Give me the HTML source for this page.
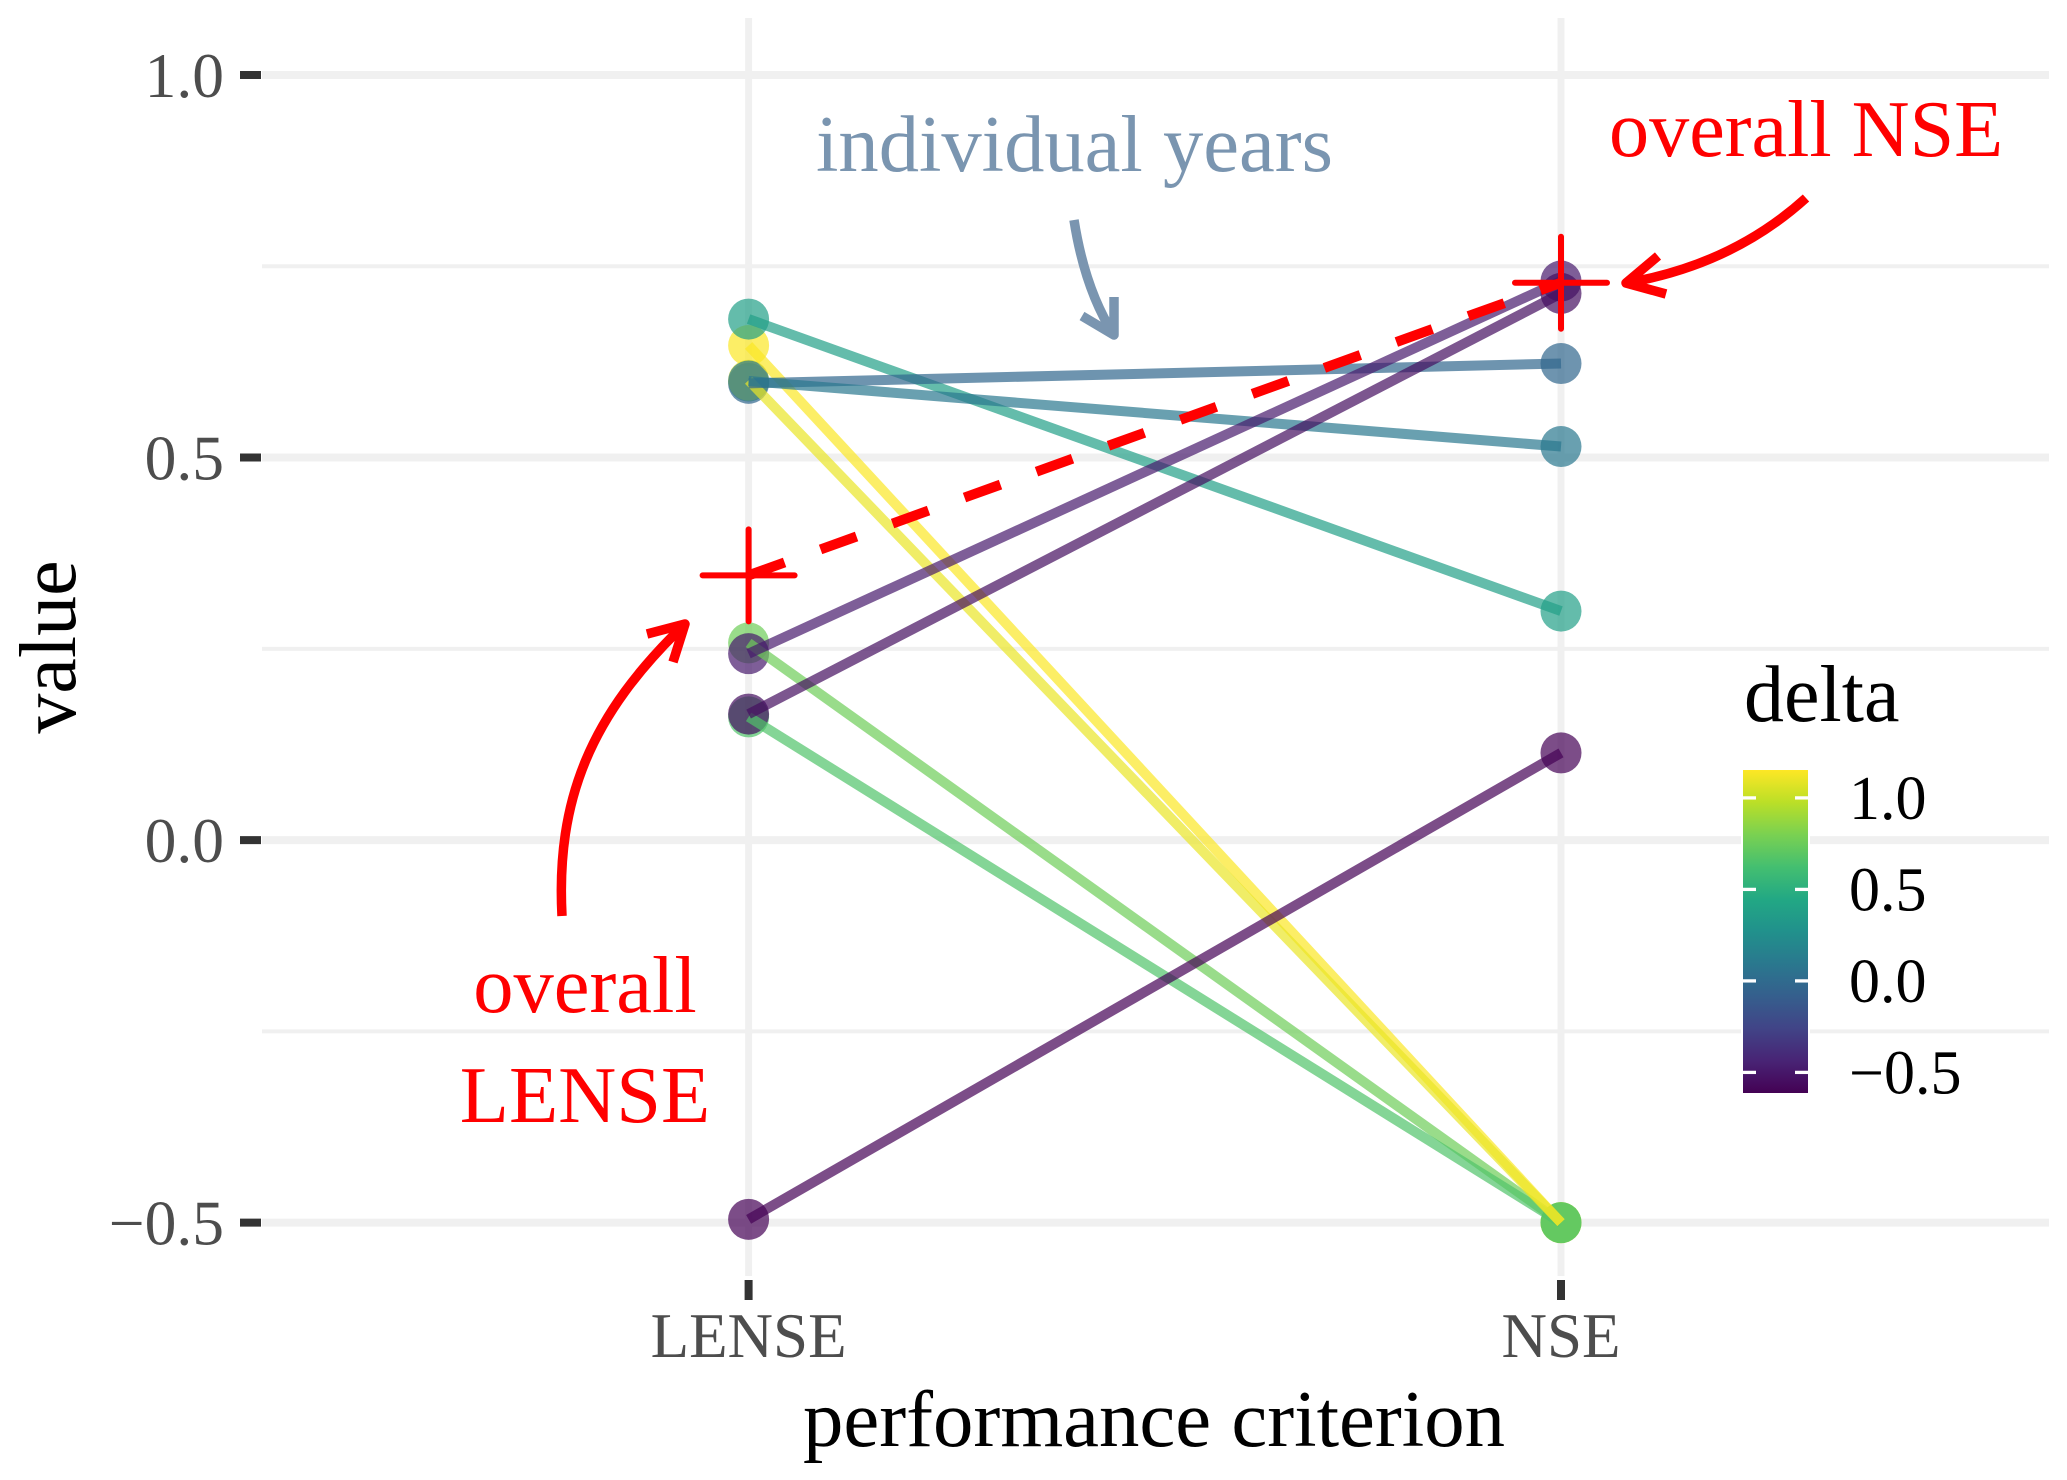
<!DOCTYPE html>
<html lang="en">
<head>
<meta charset="utf-8">
<title>Performance criterion slope chart</title>
<style>
  html, body { margin: 0; padding: 0; background: #ffffff; }
  svg { display: block; font-family: "Liberation Serif", serif; }
</style>
</head>
<body>
<svg id="chart" xmlns="http://www.w3.org/2000/svg" width="2067" height="1480" viewBox="0 0 2067 1480">
  <defs>
    <linearGradient id="viridis-gradient" x1="0" y1="1" x2="0" y2="0">
      <stop offset="0" stop-color="#440154"/>
      <stop offset="0.1" stop-color="#482475"/>
      <stop offset="0.2" stop-color="#414487"/>
      <stop offset="0.3" stop-color="#355F8D"/>
      <stop offset="0.4" stop-color="#2A788E"/>
      <stop offset="0.5" stop-color="#21918C"/>
      <stop offset="0.6" stop-color="#22A884"/>
      <stop offset="0.7" stop-color="#44BF70"/>
      <stop offset="0.8" stop-color="#7AD151"/>
      <stop offset="0.9" stop-color="#BBDF27"/>
      <stop offset="1" stop-color="#FDE725"/>
    </linearGradient>
  </defs>
  <rect x="0" y="0" width="2067" height="1480" fill="#ffffff"/>
  <g id="grid"></g>
  <g id="axes"></g>
  <g id="points"></g>
  <g id="lines"></g>
  <g id="overall"></g>

  <text x="1154" y="1446" font-size="80.8" text-anchor="middle" fill="#000000">performance criterion</text>
  <text transform="translate(75 647) rotate(-90)" font-size="80" text-anchor="middle" fill="#000000">value</text>

  <g>
    <text x="816" y="171" font-size="80.6" fill="#7A95B0">individual years</text>
    <path d="M1074 220 Q1085 290 1114 335 M1082 316 L1114 335 L1114 297" fill="none" stroke="#7A95B0" stroke-width="9.5" stroke-linejoin="round"/>
  </g>
  <g>
    <text x="1609" y="156" font-size="80.2" fill="#ff0000">overall NSE</text>
    <path d="M1806 198 Q1732 265 1626 283 M1658 256 L1626 283 L1666 294" fill="none" stroke="#ff0000" stroke-width="9.5" stroke-linejoin="round"/>
  </g>
  <g>
    <text x="585" y="1012" font-size="80.5" text-anchor="middle" fill="#ff0000">overall</text>
    <text x="585" y="1122" font-size="80.5" text-anchor="middle" fill="#ff0000">LENSE</text>
    <path d="M562 916 C556 800 590 715 685 624 M647 634 L685 624 L673 662" fill="none" stroke="#ff0000" stroke-width="9.5" stroke-linejoin="round"/>
  </g>

  <g id="legend">
    <text x="1744" y="721" font-size="80" fill="#000000">delta</text>
  </g>
</svg>
<script>
// ---- chart data ----
const categories = ['LENSE', 'NSE'];
const lenseValues = [0.2577, 0.161, 0.6465, 0.601, 0.681, 0.597, 0.60, 0.2437, 0.1647, -0.4957];
const nseValues = [-0.5, -0.5, -0.5, -0.5, 0.2993, 0.6229, 0.5144, 0.7307, 0.7145, 0.114];
const overallValues = [0.346, 0.7285];
const yMajorTicks = [1.0, 0.5, 0.0, -0.5];
const yMinorTicks = [0.75, 0.25, -0.25];
const yTickLabels = ['1.0', '0.5', '0.0', '\u22120.5'];
const legendTicks = [1.0, 0.5, 0.0, -0.5];
const legendTickLabels = ['1.0', '0.5', '0.0', '\u22120.5'];
const pointDrawOrder = [2, 5, 3, 6, 0, 1, 4, 7, 8, 9];

// ---- scales ----
function xScale(index) { return 748.6 + index * (1561 - 748.6); }
function yScale(value) { return 840.1 - value * 765.1; }
function legendScale(value) { return 980.9 - value * 183; }

const DELTA_MIN = -0.613;
const DELTA_MAX = 1.151;
const viridisStops = ['#440154', '#482475', '#414487', '#355F8D', '#2A788E', '#21918C', '#22A884', '#44BF70', '#7AD151', '#BBDF27', '#FDE725'];

function hexToRgb(hex) {
  return [parseInt(hex.slice(1, 3), 16), parseInt(hex.slice(3, 5), 16), parseInt(hex.slice(5, 7), 16)];
}
function colorScale(delta) {
  let t = (delta - DELTA_MIN) / (DELTA_MAX - DELTA_MIN);
  t = Math.max(0, Math.min(1, t));
  const pos = t * (viridisStops.length - 1);
  const lo = Math.min(Math.floor(pos), viridisStops.length - 2);
  const f = pos - lo;
  const a = hexToRgb(viridisStops[lo]);
  const b = hexToRgb(viridisStops[lo + 1]);
  const c = a.map(function (v, i) { return Math.round(v + (b[i] - v) * f); });
  return 'rgb(' + c.join(',') + ')';
}

const SVG_NS = 'http://www.w3.org/2000/svg';
function makeEl(tag, attrs, parent) {
  const node = document.createElementNS(SVG_NS, tag);
  Object.keys(attrs).forEach(function (k) { node.setAttribute(k, attrs[k]); });
  parent.appendChild(node);
  return node;
}

const gridG = document.getElementById('grid');
const axesG = document.getElementById('axes');
const pointsG = document.getElementById('points');
const linesG = document.getElementById('lines');
const overallG = document.getElementById('overall');
const legendG = document.getElementById('legend');

const PLOT_LEFT = 262;
const PLOT_RIGHT = 2049;
const PLOT_TOP = 18;
const PLOT_BOTTOM = 1276;

// grid
yMinorTicks.forEach(function (v) {
  const el = makeEl('line', { x1: PLOT_LEFT, x2: PLOT_RIGHT, y1: yScale(v), y2: yScale(v), stroke: '#F0F0F0', 'stroke-width': 4 }, gridG);
  
  
});
yMajorTicks.forEach(function (v) {
  const el = makeEl('line', { x1: PLOT_LEFT, x2: PLOT_RIGHT, y1: yScale(v), y2: yScale(v), stroke: '#F0F0F0', 'stroke-width': 8 }, gridG);
  
  
});
categories.forEach(function (c, i) {
  const el = makeEl('line', { x1: xScale(i), x2: xScale(i), y1: PLOT_TOP, y2: PLOT_BOTTOM, stroke: '#F0F0F0', 'stroke-width': 7 }, gridG);
  
  
});

// axes
yMajorTicks.forEach(function (v, i) {
  const tick = makeEl('line', { x1: 240, x2: 261, y1: yScale(v), y2: yScale(v), stroke: '#333333', 'stroke-width': 8 }, axesG);
  
  
  const label = makeEl('text', { x: 224, y: yScale(v) + 22, 'font-size': 63.5, 'text-anchor': 'end', fill: '#4D4D4D' }, axesG);
  
  
  label.textContent = yTickLabels[i];
});
categories.forEach(function (c, i) {
  const tick = makeEl('line', { x1: xScale(i), x2: xScale(i), y1: 1280, y2: 1300, stroke: '#333333', 'stroke-width': 8 }, axesG);
  
  
  const label = makeEl('text', { x: xScale(i), y: 1357, 'font-size': 63, 'text-anchor': 'middle', fill: '#4D4D4D' }, axesG);
  
  
  label.textContent = c;
});

// points
pointDrawOrder.forEach(function (i) {
  const color = colorScale(lenseValues[i] - nseValues[i]);
  const left = makeEl('circle', { cx: xScale(0), cy: yScale(lenseValues[i]), r: 20.5, fill: color, 'fill-opacity': 0.7 }, pointsG);
  
  
  const right = makeEl('circle', { cx: xScale(1), cy: yScale(nseValues[i]), r: 20.5, fill: color, 'fill-opacity': 0.7 }, pointsG);
  
  
});

// connecting lines
lenseValues.forEach(function (v, i) {
  const color = colorScale(v - nseValues[i]);
  const ln = makeEl('line', { x1: xScale(0), y1: yScale(v), x2: xScale(1), y2: yScale(nseValues[i]), stroke: color, 'stroke-width': 10, 'stroke-opacity': 0.7 }, linesG);
  
  
});

// overall dashed line and plus markers
const dash = makeEl('line', { x1: xScale(0), y1: yScale(overallValues[0]), x2: xScale(1), y2: yScale(overallValues[1]), stroke: '#ff0000', 'stroke-width': 10, 'stroke-dasharray': '38.25 38.25' }, overallG);


overallValues.forEach(function (v, i) {
  const cx = xScale(i);
  const cy = yScale(v);
  const plus = makeEl('path', { d: 'M' + (cx - 46) + ' ' + cy + ' H' + (cx + 46) + ' M' + cx + ' ' + (cy - 46) + ' V' + (cy + 46), fill: 'none', stroke: '#ff0000', 'stroke-width': 6, 'stroke-linecap': 'round' }, overallG);
  
  
});

// legend colourbar
const barHalo = makeEl('rect', { x: 1741, y: 768, width: 69, height: 327, fill: '#ffffff' }, legendG);


const bar = makeEl('rect', { x: 1743, y: 770, width: 65, height: 323, fill: 'url(#viridis-gradient)' }, legendG);


legendTicks.forEach(function (v, i) {
  const y = legendScale(v);
  const tl = makeEl('line', { x1: 1743, x2: 1756, y1: y, y2: y, stroke: '#ffffff', 'stroke-width': 3.3 }, legendG);
  
  
  const tr = makeEl('line', { x1: 1795, x2: 1808, y1: y, y2: y, stroke: '#ffffff', 'stroke-width': 3.3 }, legendG);
  
  
  const lab = makeEl('text', { x: 1849, y: y + 21, 'font-size': 62, fill: '#000000' }, legendG);
  
  
  lab.textContent = legendTickLabels[i];
});
</script>
</body>
</html>
